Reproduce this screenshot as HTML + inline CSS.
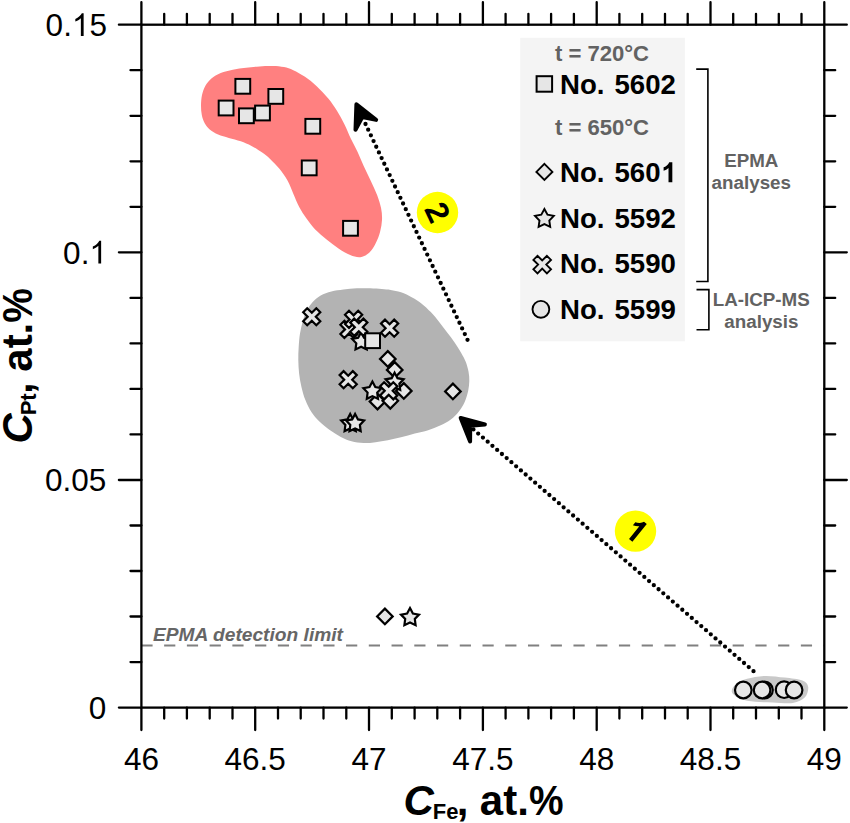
<!DOCTYPE html>
<html><head><meta charset="utf-8"><title>Chart</title>
<style>html,body{margin:0;padding:0;background:#fff}svg{display:block}text{font-family:"Liberation Sans",sans-serif}.tk{font-size:31.5px;fill:#000}.lg{font-size:27.6px;font-weight:bold;fill:#000;word-spacing:2.4px}.tt{font-size:22.1px;font-weight:bold;fill:#626262}.an{font-size:18.8px;font-weight:bold;fill:#626262}.ax{font-size:42px;font-weight:bold;fill:#000;word-spacing:-0.2px}.sb{font-size:22px}</style></head><body>
<svg width="850" height="823" viewBox="0 0 850 823">
<rect width="850" height="823" fill="#fff"/>
<path d="M201 105.8C201 102.5 201.3 98.4 202 95.1C202.7 91.8 203.8 88.5 205.4 85.7C207 82.9 208.9 80.5 211.4 78.4C213.9 76.3 217.1 74.5 220.7 73C224.3 71.5 228.6 70.6 232.8 69.7C237 68.8 241.7 68.2 246.1 67.7C250.5 67.2 255 66.7 259.5 66.4C264 66.1 268.8 65.9 272.9 66C277 66.1 280.6 66.4 284 67.1C287.4 67.8 289.8 68.6 293.3 70.2C296.8 71.8 301.1 74.1 305 76.8C308.9 79.5 312.8 82.6 316.7 86.2C320.6 89.8 324.9 94.5 328.3 98.6C331.7 102.7 334.4 106.7 337.1 111C339.8 115.3 342.1 119.6 344.4 124.2C346.7 128.8 348.7 134.1 350.9 138.7C353.1 143.3 355.4 147.3 357.5 151.8C359.6 156.3 361.5 161.1 363.7 165.9C365.9 170.7 368.4 175.5 370.6 180.4C372.9 185.3 375.4 190.5 377.2 195.2C378.9 199.8 380.3 204.2 381.1 208.3C381.9 212.4 382.2 216.1 382 220C381.8 223.9 381.2 227.8 380.1 231.7C379.1 235.6 377.5 239.8 375.7 243.3C373.9 246.8 371.8 250.5 369.2 252.8C366.6 255.1 363.6 256.8 360.4 257.2C357.2 257.6 353.8 256.5 350.2 255C346.6 253.5 342.4 251 338.5 248.4C334.6 245.8 330.8 242.8 326.9 239.7C323 236.5 318.6 233 315.2 229.5C311.8 226 309.2 222.3 306.5 218.5C303.8 214.7 301.4 211 299.2 206.9C297 202.8 295.2 198.1 293.3 193.7C291.4 189.3 289.9 184.8 287.5 180.6C285.1 176.4 282.1 172.2 279.2 168.6C276.3 165 272.9 161.7 270.1 159C267.3 156.3 265.3 154.8 262.2 152.6C259.1 150.4 255.1 147.8 251.5 145.9C247.9 144 244.6 142.5 240.8 141.2C237 139.9 232.6 139 228.8 137.9C225 136.8 221.2 135.8 218.1 134.5C215 133.2 212.2 131.7 210 129.8C207.8 127.9 206.1 125.7 204.7 123.2C203.3 120.8 202.4 118 201.8 115.1C201.2 112.2 201 109.1 201 105.8Z" fill="#ff8080"/>
<path d="M298.3 360.1C298.2 355.7 298.4 351.2 298.7 346.8C299 342.4 299.3 337.7 300 333.5C300.7 329.3 301.6 325.2 302.7 321.4C303.8 317.6 305 313.9 306.7 310.7C308.4 307.5 310.4 304.7 312.7 302.1C315 299.6 317.6 297.2 320.7 295.4C323.8 293.6 327.6 292.4 331.4 291.4C335.2 290.4 339.3 289.9 343.5 289.4C347.7 288.9 352.4 288.5 356.8 288.3C361.2 288.1 366 288.2 370.2 288.3C374.4 288.4 378.4 288.8 381.8 289.1C385.2 289.4 387.5 289.5 390.7 290C393.9 290.5 397.4 291.1 401 292.3C404.6 293.5 408.7 295.5 412.1 297.4C415.5 299.2 418.3 300.9 421.4 303.4C424.5 305.8 427.9 309.1 430.8 312.1C433.7 315.1 436.1 318.1 438.8 321.4C441.5 324.7 444.1 328.5 446.8 332.1C449.5 335.7 452.4 339.2 454.8 342.8C457.2 346.4 459.7 350.4 461.5 353.5C463.3 356.6 464.4 358.5 465.6 361.5C466.8 364.5 467.9 368.2 468.5 371.5C469.1 374.8 469.4 377.8 469.3 381C469.2 384.2 468.9 387.3 468.2 390.7C467.5 394.1 466.4 397.9 464.9 401.4C463.3 404.9 461.2 408.5 458.9 411.5C456.5 414.5 453.9 417.2 450.8 419.5C447.7 421.8 443.9 423.7 440.1 425.5C436.3 427.3 432.3 428.9 428.1 430.2C423.9 431.5 419.3 432.3 414.8 433.5C410.3 434.7 405.5 436.1 401 437.2C396.5 438.3 392.1 439.4 387.8 440.2C383.6 441 379.6 441.7 375.5 442.2C371.4 442.7 367.5 443.2 363.5 443.1C359.5 443 355.3 442.3 351.5 441.3C347.7 440.3 344.4 438.8 340.8 436.9C337.2 435 333.7 432.8 330.1 430.2C326.5 427.6 322.5 424.5 319.4 421.5C316.3 418.5 313.7 415.7 311.4 412.1C309.1 408.5 307.1 404.3 305.4 400.1C303.7 395.9 302.4 391.1 301.4 386.7C300.3 382.2 299.6 377.8 299.1 373.4C298.6 369 298.4 364.5 298.3 360.1Z" fill="#b3b3b3"/>
<path d="M731.8 691.8C731.2 689.2 734 685.7 736.5 683.5C739 681.3 742.4 680.1 747.1 678.8C751.8 677.5 758.4 676.1 764.7 675.9C771 675.7 778.4 676.8 784.7 677.6C791 678.4 798.5 679 802.4 680.6C806.3 682.2 807.8 684.3 808.2 687.1C808.6 689.9 807.2 695 804.7 697.6C802.2 700.2 798.2 702.1 792.9 702.9C787.6 703.7 779.2 702.6 772.9 702.4C766.6 702.2 760.8 702.4 755.3 701.8C749.8 701.2 743.9 700.5 740 698.8C736.1 697.1 732.4 694.3 731.8 691.8Z" fill="#c9c9c9"/>
<path d="M141.4 645.4H824.3" stroke="#808080" stroke-width="2" stroke-dasharray="11.2 11.54" fill="none"/>
<text x="153" y="640.8" style="font-size:17.6px;font-weight:bold;font-style:italic;fill:#666" textLength="190" lengthAdjust="spacingAndGlyphs">EPMA detection limit</text>
<g stroke="#000" stroke-width="2.3" fill="none" stroke-linecap="butt">
<rect x="141.4" y="24.7" width="682.9" height="682.9"/>
<path d="M141.4 24.7v-22.5M141.4 707.6v22.5M164.2 24.7v-10.9M164.2 707.6v10.9M186.9 24.7v-10.9M186.9 707.6v10.9M209.7 24.7v-10.9M209.7 707.6v10.9M232.5 24.7v-10.9M232.5 707.6v10.9M255.2 24.7v-22.5M255.2 707.6v22.5M278 24.7v-10.9M278 707.6v10.9M300.7 24.7v-10.9M300.7 707.6v10.9M323.5 24.7v-10.9M323.5 707.6v10.9M346.3 24.7v-10.9M346.3 707.6v10.9M369 24.7v-22.5M369 707.6v22.5M391.8 24.7v-10.9M391.8 707.6v10.9M414.6 24.7v-10.9M414.6 707.6v10.9M437.3 24.7v-10.9M437.3 707.6v10.9M460.1 24.7v-10.9M460.1 707.6v10.9M482.9 24.7v-22.5M482.9 707.6v22.5M505.6 24.7v-10.9M505.6 707.6v10.9M528.4 24.7v-10.9M528.4 707.6v10.9M551.1 24.7v-10.9M551.1 707.6v10.9M573.9 24.7v-10.9M573.9 707.6v10.9M596.7 24.7v-22.5M596.7 707.6v22.5M619.4 24.7v-10.9M619.4 707.6v10.9M642.2 24.7v-10.9M642.2 707.6v10.9M665 24.7v-10.9M665 707.6v10.9M687.7 24.7v-10.9M687.7 707.6v10.9M710.5 24.7v-22.5M710.5 707.6v22.5M733.2 24.7v-10.9M733.2 707.6v10.9M756 24.7v-10.9M756 707.6v10.9M778.8 24.7v-10.9M778.8 707.6v10.9M801.5 24.7v-10.9M801.5 707.6v10.9M824.3 24.7v-22.5M824.3 707.6v22.5M141.4 707.6h-22.5M824.3 707.6h22.5M141.4 662.1h-10.9M824.3 662.1h10.9M141.4 616.5h-10.9M824.3 616.5h10.9M141.4 571h-10.9M824.3 571h10.9M141.4 525.5h-10.9M824.3 525.5h10.9M141.4 480h-22.5M824.3 480h22.5M141.4 434.4h-10.9M824.3 434.4h10.9M141.4 388.9h-10.9M824.3 388.9h10.9M141.4 343.4h-10.9M824.3 343.4h10.9M141.4 297.9h-10.9M824.3 297.9h10.9M141.4 252.3h-22.5M824.3 252.3h22.5M141.4 206.8h-10.9M824.3 206.8h10.9M141.4 161.3h-10.9M824.3 161.3h10.9M141.4 115.8h-10.9M824.3 115.8h10.9M141.4 70.2h-10.9M824.3 70.2h10.9M141.4 24.7h-22.5M824.3 24.7h22.5" stroke-linecap="round"/>
</g>
<text class="tk" x="141.4" y="770" text-anchor="middle">46</text>
<text class="tk" x="255.2" y="770" text-anchor="middle">46.5</text>
<text class="tk" x="369" y="770" text-anchor="middle">47</text>
<text class="tk" x="482.9" y="770" text-anchor="middle">47.5</text>
<text class="tk" x="596.7" y="770" text-anchor="middle">48</text>
<text class="tk" x="710.5" y="770" text-anchor="middle">48.5</text>
<text class="tk" x="824.3" y="770" text-anchor="middle">49</text>
<text class="tk" x="106.4" y="718.8" text-anchor="end">0</text>
<text class="tk" x="106.4" y="491.2" text-anchor="end">0.05</text>
<text class="tk" x="89.4" y="263.5" text-anchor="end">0.</text>
<path transform="translate(89.4 263.5) scale(0.01538 -0.01538)" d="M763 0H583V1147Q518 1085 412.5 1023Q307 961 223 930V1104Q374 1175 487 1276Q600 1377 647 1472H763Z"/>
<text class="tk" x="71.9" y="35.9" text-anchor="end">0.</text>
<path transform="translate(71.9 35.9) scale(0.01538 -0.01538)" d="M763 0H583V1147Q518 1085 412.5 1023Q307 961 223 930V1104Q374 1175 487 1276Q600 1377 647 1472H763Z"/>
<text class="tk" x="89.4" y="35.9">5</text>
<text class="ax" x="403.5" y="814.7"><tspan font-style="italic">C</tspan><tspan class="sb" dy="4" dx="-1">Fe</tspan><tspan dy="-4" dx="-1.8">, at.</tspan><tspan textLength="34.6" lengthAdjust="spacingAndGlyphs">%</tspan></text>
<text class="ax" transform="translate(32 443.5) rotate(-90)"><tspan font-style="italic">C</tspan><tspan class="sb" dy="3.5" dx="-2.2">Pt</tspan><tspan dy="-3.5" dx="-0.6" style="word-spacing:-1.1px">, at.</tspan><tspan textLength="34.6" lengthAdjust="spacingAndGlyphs">%</tspan></text>
<g stroke="#000" fill="none" stroke-linecap="round">
<path d="M753.5 671.2L473.4 429.4" stroke-width="4.3" stroke-dasharray="0 6.271"/>
<path d="M467.5 339.8L365.5 124" stroke-width="4.3" stroke-dasharray="0 6.281"/>
</g>
<path d="M460.7 417.9L484.9 424.4L470.2 425.8L470.1 441.4Z" fill="#000" stroke="#000" stroke-width="4" stroke-linejoin="round"/>
<path d="M356.4 104.2L376.1 119.9L362.3 117L355.5 129.7Z" fill="#000" stroke="#000" stroke-width="4" stroke-linejoin="round"/>
<circle cx="635.5" cy="531.1" r="20.7" fill="#ffff00"/>
<circle cx="437.5" cy="212.5" r="20.7" fill="#ffff00"/>
<path transform="translate(619.45 531.27) rotate(39.1) scale(0.0155 -0.0155)" d="M1077 0H795V1058Q640 914 431 845V1100Q541 1136 670 1236.5Q799 1337 847 1471H1077Z" fill="#000"/>
<text transform="translate(427.5 217) rotate(64.6)" x="0" y="0" text-anchor="middle" style="font-size:32px;font-weight:bold">2</text>
<g stroke="#000" stroke-width="2.2" fill="#e6e6e6" stroke-linejoin="miter">
<path d="M394.7 362.1L402.5 369.9L394.7 377.7L386.9 369.9Z" />
<path d="M387.8 351.1L395.6 358.9L387.8 366.7L380 358.9Z" />
<path d="M403.8 383.1L411.6 390.9L403.8 398.7L396 390.9Z" />
<path d="M377.5 393.8L385.3 401.6L377.5 409.4L369.7 401.6Z" />
<path d="M390.3 393L398.1 400.8L390.3 408.6L382.5 400.8Z" />
<path d="M452.9 383.6L460.7 391.4L452.9 399.2L445.1 391.4Z" />
<path d="M384.9 608.6L392.7 616.4L384.9 624.2L377.1 616.4Z" />
<path d="M361.1 332.3L364 337.8L370.1 338.9L365.9 343.3L366.7 349.5L361.1 346.8L355.5 349.5L356.3 343.3L352.1 338.9L358.2 337.8Z" />
<path d="M372.4 381.6L375.3 387.1L381.4 388.2L377.2 392.6L378 398.8L372.4 396.1L366.8 398.8L367.6 392.6L363.4 388.2L369.5 387.1Z" />
<path d="M394.6 372.7L397.5 378.2L403.6 379.3L399.4 383.7L400.2 389.9L394.6 387.2L389 389.9L389.8 383.7L385.6 379.3L391.7 378.2Z" />
<path d="M350.2 413.9L353.1 419.4L359.2 420.5L355 424.9L355.8 431.1L350.2 428.4L344.6 431.1L345.4 424.9L341.2 420.5L347.3 419.4Z" />
<path d="M355.1 413.9L358 419.4L364.1 420.5L359.9 424.9L360.7 431.1L355.1 428.4L349.5 431.1L350.3 424.9L346.1 420.5L352.2 419.4Z" />
<path d="M410 608L412.9 613.5L419 614.6L414.8 619L415.6 625.2L410 622.5L404.4 625.2L405.2 619L401 614.6L407.1 613.5Z" />
<path d="M316.3 308.2L320.3 312.2L315.8 316.8L320.3 321.3L316.3 325.3L311.8 320.8L307.2 325.3L303.2 321.3L307.7 316.8L303.2 312.2L307.2 308.2L311.8 312.7Z" />
<path d="M353.6 320.8L357.6 324.8L353 329.4L357.6 334L353.6 338L349 333.4L344.4 338L340.4 334L345 329.4L340.4 324.8L344.4 320.8L349 325.4Z" />
<path d="M358.2 310.8L362.2 314.8L357.6 319.4L362.2 324L358.2 328L353.6 323.4L349 328L345 324L349.6 319.4L345 314.8L349 310.8L353.6 315.4Z" />
<path d="M363.4 318.6L367.4 322.6L362.8 327.2L367.4 331.8L363.4 335.8L358.8 331.2L354.2 335.8L350.2 331.8L354.8 327.2L350.2 322.6L354.2 318.6L358.8 323.2Z" />
<path d="M394.2 319.6L398.2 323.6L393.6 328.2L398.2 332.8L394.2 336.8L389.6 332.2L385 336.8L381 332.8L385.6 328.2L381 323.6L385 319.6L389.6 324.2Z" />
<path d="M352.8 371.1L356.8 375.1L352.2 379.7L356.8 384.3L352.8 388.3L348.2 383.7L343.6 388.3L339.6 384.3L344.2 379.7L339.6 375.1L343.6 371.1L348.2 375.7Z" />
<path d="M393.3 382.2L397.3 386.2L392.7 390.8L397.3 395.4L393.3 399.4L388.7 394.8L384.1 399.4L380.1 395.4L384.7 390.8L380.1 386.2L384.1 382.2L388.7 386.8Z" />
<rect x="235.4" y="78.9" width="14.8" height="14.8" stroke-width="2"/>
<rect x="218.7" y="100.6" width="14.8" height="14.8" stroke-width="2"/>
<rect x="239" y="108.4" width="14.8" height="14.8" stroke-width="2"/>
<rect x="255.1" y="105.6" width="14.8" height="14.8" stroke-width="2"/>
<rect x="268.4" y="89" width="14.8" height="14.8" stroke-width="2"/>
<rect x="305.4" y="118.9" width="14.8" height="14.8" stroke-width="2"/>
<rect x="301.8" y="160.5" width="14.8" height="14.8" stroke-width="2"/>
<rect x="343.1" y="220.9" width="14.8" height="14.8" stroke-width="2"/>
<rect x="365.2" y="333.3" width="14.8" height="14.8" stroke-width="2"/>
<circle cx="743.3" cy="690" r="8.3" />
<circle cx="764.5" cy="690" r="8.3" />
<circle cx="762.1" cy="690" r="8.3" />
<circle cx="784.1" cy="689.7" r="8.3" />
<circle cx="794.1" cy="690" r="8.3" />
</g>
<rect x="520.2" y="37.8" width="164.7" height="303.5" fill="#f4f4f4"/>
<g stroke="#000" stroke-width="1.9" fill="#e6e6e6">
<rect x="536.6" y="76.2" width="15.5" height="15.5" stroke-width="2"/>
<path d="M544.4 163.9L552.4 171.9L544.4 179.9L536.4 171.9Z" />
<path d="M544.4 209L547.5 214.7L553.8 215.8L549.3 220.5L550.2 226.9L544.4 224.1L538.6 226.9L539.5 220.5L535 215.8L541.3 214.7Z" />
<path d="M546.9 255.8L551 259.9L546.3 264.6L551 269.3L546.9 273.4L542.2 268.7L537.5 273.4L533.4 269.3L538.1 264.6L533.4 259.9L537.5 255.8L542.2 260.5Z" />
<circle cx="540.9" cy="309.3" r="8.4" />
</g>
<text class="tt" x="602" y="60.6" text-anchor="middle">t = 720°C</text>
<text class="tt" x="602" y="134.7" text-anchor="middle">t = 650°C</text>
<text class="lg" x="560" y="93.8">No. 5602</text>
<text class="lg" x="560" y="182.2">No. 560</text>
<path transform="translate(657.8 182.2) scale(0.01348 -0.01348)" d="M1077 0H795V1058Q640 914 431 845V1100Q541 1136 670 1236.5Q799 1337 847 1471H1077Z"/>
<text class="lg" x="560" y="227.9">No. 5592</text>
<text class="lg" x="560" y="273.2">No. 5590</text>
<text class="lg" x="560" y="319.2">No. 5599</text>
<path d="M696.2 69.1H707.9V281.5H696.2M696.5 289.6H708.9V329.8H696.5" stroke="#000" stroke-width="1.6" fill="none"/>
<text class="an" x="751.3" y="167.4" text-anchor="middle">EPMA</text>
<text class="an" x="751.3" y="188.8" text-anchor="middle">analyses</text>
<text class="an" x="761.2" y="306.3" text-anchor="middle">LA-ICP-MS</text>
<text class="an" x="761.4" y="327.6" text-anchor="middle">analysis</text>
</svg></body></html>
